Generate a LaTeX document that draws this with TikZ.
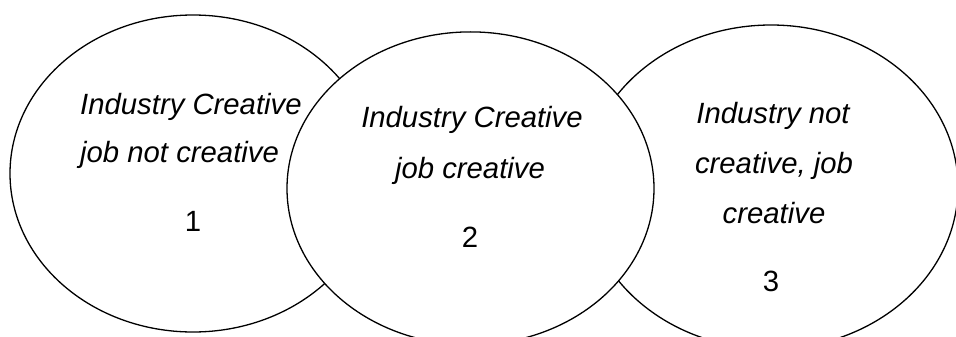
\documentclass[tikz,border=0pt]{standalone}
\usepackage{fontspec}
\setmainfont{Liberation Sans}
\usetikzlibrary{shapes.geometric}
\tikzset{
  circ/.style={ellipse, draw=black, fill=white, line width=1.3pt, inner sep=0pt},
  lbl/.style={inner sep=0pt, font=\fontsize{29.3}{35}\selectfont\itshape},
  num/.style={inner sep=0pt, anchor=base, font=\fontsize{29.3}{35}\selectfont}
}
\begin{document}
\begin{tikzpicture}[x=1pt,y=-1pt]
\useasboundingbox[fill=white] (0,0) rectangle (956,337);
\node[circ, minimum width=366pt, minimum height=317pt] (e1) at (193,173.5) {};
\node[circ, minimum width=374pt, minimum height=324pt] (e3) at (771,187) {};
\node[circ, minimum width=367pt, minimum height=313pt] (e2) at (470.5,188.4) {};
\node[lbl, anchor=base west] (t1a) at (80,114) {Industry Creative};
\node[lbl, anchor=base west] (t1b) at (80,162) {job not creative};
\node[num] (n1) at (193,231) {1};
\node[lbl, anchor=base] (t2a) at (472,128) {Industry Creative};
\node[lbl, anchor=base] (t2b) at (470,178) {job creative};
\node[num] (n2) at (470,247) {2};
\node[lbl, anchor=base] (t3a) at (773,123) {Industry not};
\node[lbl, anchor=base] (t3b) at (774,173) {creative, job};
\node[lbl, anchor=base] (t3c) at (774,223) {creative};
\node[num] (n3) at (771,291) {3};
\end{tikzpicture}
\end{document}
